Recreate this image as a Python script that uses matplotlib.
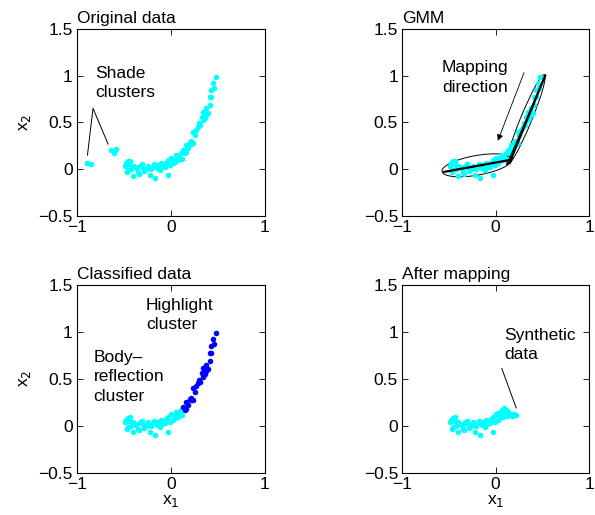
import matplotlib
matplotlib.use("Agg")
import matplotlib.pyplot as plt
from matplotlib.patches import Ellipse

plt.rcParams["font.family"] = ["Liberation Sans", "DejaVu Sans"]
plt.rcParams["axes.unicode_minus"] = True

# ── data ─────────────────────────────────────────────────────────────────────
shade_x = [-0.89, -0.85, -0.64, -0.60, -0.58]
shade_y = [0.07, 0.05, 0.20, 0.175, 0.21]

body_x = [-0.49, -0.48, -0.47, -0.46, -0.454, -0.44, -0.43, -0.42, -0.40, -0.40,
          -0.38, -0.365, -0.35, -0.34, -0.33, -0.31, -0.295, -0.28, -0.26, -0.24,
          -0.23, -0.22, -0.205, -0.19, -0.18, -0.17, -0.15, -0.135, -0.12, -0.117,
          -0.10, -0.09, -0.08, -0.064, -0.05, -0.03, -0.03, -0.01, 0.007, 0.02,
          0.04, 0.05, 0.06, 0.078, 0.09, 0.11, 0.12]
body_y = [0.035, 0.06, -0.035, -0.01, 0.086, 0.05, 0.09, 0.0, 0.035, -0.07,
          0.02, 0.007, -0.03, -0.05, 0.035, 0.05, 0.014, -0.02, 0.0, 0.035,
          0.02, -0.065, 0.0, 0.025, 0.05, -0.10, 0.007, 0.043, 0.03, -0.01,
          0.06, 0.02, 0.03, 0.025, 0.07, -0.065, 0.096, 0.043, 0.12, 0.06,
          0.078, 0.10, 0.15, 0.096, 0.13, 0.17, 0.11]

high_x = [0.13, 0.15, 0.16, 0.167, 0.185, 0.20, 0.21, 0.22, 0.24, 0.24,
          0.255, 0.27, 0.29, 0.30, 0.31, 0.327, 0.345, 0.345, 0.36, 0.38,
          0.38, 0.40, 0.415, 0.415, 0.43, 0.43, 0.45, 0.46, 0.479]
high_y = [0.20, 0.168, 0.18, 0.257, 0.22, 0.29, 0.30, 0.27, 0.275, 0.40,
          0.36, 0.42, 0.45, 0.49, 0.47, 0.56, 0.52, 0.61, 0.55, 0.58,
          0.65, 0.60, 0.69, 0.77, 0.77, 0.845, 0.92, 0.87, 0.987]

mapped_x = [0.02, 0.05, 0.07, 0.08, 0.09, 0.10, 0.11, 0.12, 0.13, 0.14,
            0.15, 0.16, 0.17, 0.18, 0.19, 0.20, 0.21, 0.22]
mapped_y = [0.14, 0.12, 0.17, 0.10, 0.19, 0.13, 0.17, 0.10, 0.15, 0.12,
            0.11, 0.13, 0.10, 0.12, 0.11, 0.12, 0.11, 0.115]

# GMM components: centre, full width, full height, angle (deg)
gmm_centres = [(-0.2, 0.04), (0.325, 0.53)]
gmm_widths = [0.76, 1.04]
gmm_heights = [0.21, 0.12]
gmm_angles = [10, 67.6]
# principal axis segments
axis_lines = [([-0.55, 0.14], [-0.03, 0.095]), ([0.15, 0.53], [0.07, 1.0])]
thin_lines = [([0.12, 0.53], [0.05, 1.0]), ([0.12, 0.19], [0.05, 0.12])]

xticks = [-1, 0, 1]
yticks = [-0.5, 0, 0.5, 1, 1.5]
ytick_labels = ["\u22120.5", "0", "0.5", "1", "1.5"]
xtick_labels = ["\u22121", "0", "1"]

FS = 12.5
LS = 1.38
CYAN = "#00ffff"
BLUE = "#0000ff"
MS = 4

fig = plt.figure(figsize=(5.95, 5.15), dpi=100)
pos = {
    "tl": [0.129, 0.581, 0.316, 0.363],
    "tr": [0.676, 0.581, 0.314, 0.363],
    "bl": [0.129, 0.082, 0.316, 0.365],
    "br": [0.676, 0.082, 0.314, 0.365],
}
axes = {k: fig.add_axes(v) for k, v in pos.items()}

for key, ax in axes.items():
    ax.set_xlim(-1, 1)
    ax.set_ylim(-0.5, 1.5)
    ax.set_xticks(xticks)
    ax.set_xticklabels(xtick_labels)
    ax.set_yticks(yticks)
    ax.set_yticklabels(ytick_labels)
    ax.tick_params(direction="in", top=True, right=True, labelsize=FS,
                   length=4, width=0.6, pad=3)
    for s in ax.spines.values():
        s.set_linewidth(0.8)

# ── Original data ────────────────────────────────────────────────────────────
ax = axes["tl"]
ax.plot(shade_x, shade_y, "o", color=CYAN, ms=MS, mec="none")
ax.plot(body_x, body_y, "o", color=CYAN, ms=MS, mec="none")
ax.plot(high_x, high_y, "o", color=CYAN, ms=MS, mec="none")
ax.set_title("Original data", loc="left", fontsize=FS, pad=4)
ax.set_ylabel("x$_2$", fontsize=FS, labelpad=4)
ax.text(-0.8, 0.92, "Shade\nclusters", fontsize=FS, va="center", ha="left",
        linespacing=LS)
ax.plot([-0.886, -0.827, -0.667], [0.15, 0.65, 0.267], color="k", lw=0.7)

# ── GMM ──────────────────────────────────────────────────────────────────────
ax = axes["tr"]
ax.plot(body_x, body_y, "o", color=CYAN, ms=MS, mec="none")
ax.plot(high_x, high_y, "o", color=CYAN, ms=MS, mec="none")
for c, w, h, a in zip(gmm_centres, gmm_widths, gmm_heights, gmm_angles):
    ax.add_patch(Ellipse(c, w, h, angle=a, fill=False, ec="k", lw=0.7))
for lx, ly in axis_lines:
    ax.plot(lx, ly, color="k", lw=1.6)
for lx, ly in thin_lines:
    ax.plot(lx, ly, color="k", lw=0.7)
ax.annotate("", xy=(0.013, 0.275), xytext=(0.315, 1.06),
            arrowprops=dict(arrowstyle="-|>", color="k", lw=0.6,
                            mutation_scale=9))
ax.text(-0.575, 0.98, "Mapping\ndirection", fontsize=FS, va="center",
        ha="left", linespacing=LS)
ax.set_title("GMM", loc="left", fontsize=FS, pad=4)

# ── Classified data ──────────────────────────────────────────────────────────
ax = axes["bl"]
ax.plot(body_x, body_y, "o", color=CYAN, ms=MS, mec="none")
ax.plot(high_x, high_y, "o", color=BLUE, ms=MS, mec="none")
ax.set_title("Classified data", loc="left", fontsize=FS, pad=4)
ax.set_ylabel("x$_2$", fontsize=FS, labelpad=4)
ax.set_xlabel("x$_1$", fontsize=FS, labelpad=1)
ax.text(-0.266, 1.18, "Highlight\ncluster", fontsize=FS, va="center",
        ha="left", linespacing=LS)
ax.text(-0.82, 0.52, "Body\u2013\nreflection\ncluster", fontsize=FS,
        va="center", ha="left", linespacing=LS)

# ── After mapping ────────────────────────────────────────────────────────────
ax = axes["br"]
ax.plot(body_x, body_y, "o", color=CYAN, ms=MS, mec="none")
ax.plot(mapped_x, mapped_y, "o", color=CYAN, ms=MS, mec="none")
ax.set_title("After mapping", loc="left", fontsize=FS, pad=4)
ax.set_xlabel("x$_1$", fontsize=FS, labelpad=1)
ax.text(0.09, 0.86, "Synthetic\ndata", fontsize=FS, va="center",
        ha="left", linespacing=LS)
ax.plot([0.066, 0.22], [0.61, 0.19], color="k", lw=0.7)

fig.savefig("out.png", dpi=100)
